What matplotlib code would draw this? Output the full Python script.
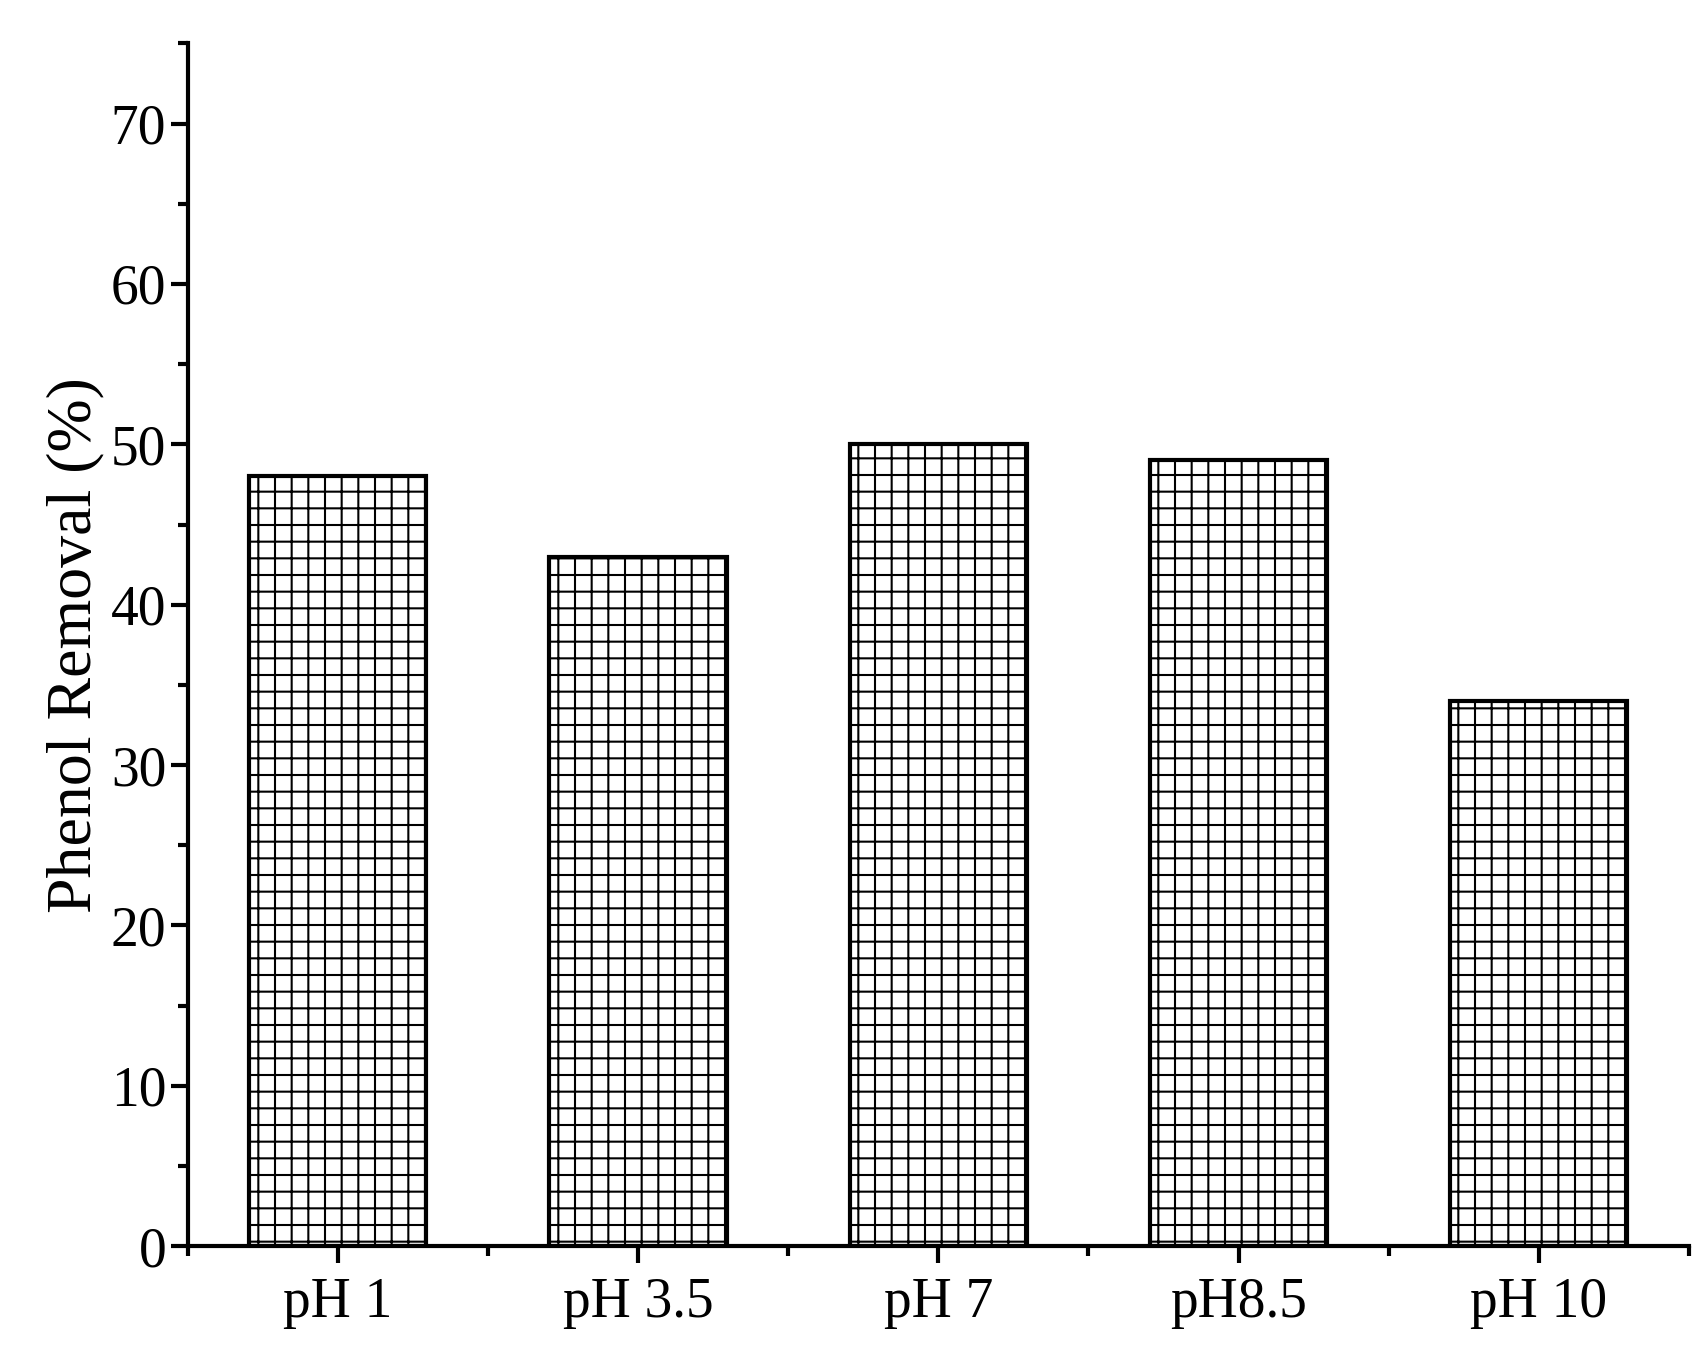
import matplotlib
matplotlib.use("Agg")
import matplotlib.pyplot as plt
from matplotlib.ticker import MultipleLocator

categories = ["pH 1", "pH 3.5", "pH 7", "pH8.5", "pH 10"]
removal = [48, 43, 50, 49, 34]

plt.rcParams['font.family'] = ['Liberation Serif', 'DejaVu Serif']
plt.rcParams['hatch.linewidth'] = 1.5

fig = plt.figure(figsize=(17.06, 13.56), dpi=100)
ax = fig.add_axes([0.110, 0.081, 0.880, 0.887])

x = list(range(len(categories)))
ax.bar(x, removal, width=0.59, facecolor='white', edgecolor='black',
       linewidth=3, hatch='+')

ax.set_xlim(-0.5, 4.5)
ax.set_ylim(0, 75)
ax.set_xticks(x)
ax.set_xticklabels(categories)
ax.xaxis.set_minor_locator(MultipleLocator(0.5))
ax.yaxis.set_major_locator(MultipleLocator(10))
ax.yaxis.set_minor_locator(MultipleLocator(5))
ax.set_ylabel("Phenol Removal (%)", fontsize=46)

for s in ['top', 'right']:
    ax.spines[s].set_visible(False)
for s in ['left', 'bottom']:
    ax.spines[s].set_linewidth(3)
ax.tick_params(which='major', length=12, width=3, labelsize=40, direction='out')
ax.tick_params(which='minor', length=7, width=3, direction='out')
ax.tick_params(axis='x', pad=10)

fig.savefig("out.png", dpi=100)
